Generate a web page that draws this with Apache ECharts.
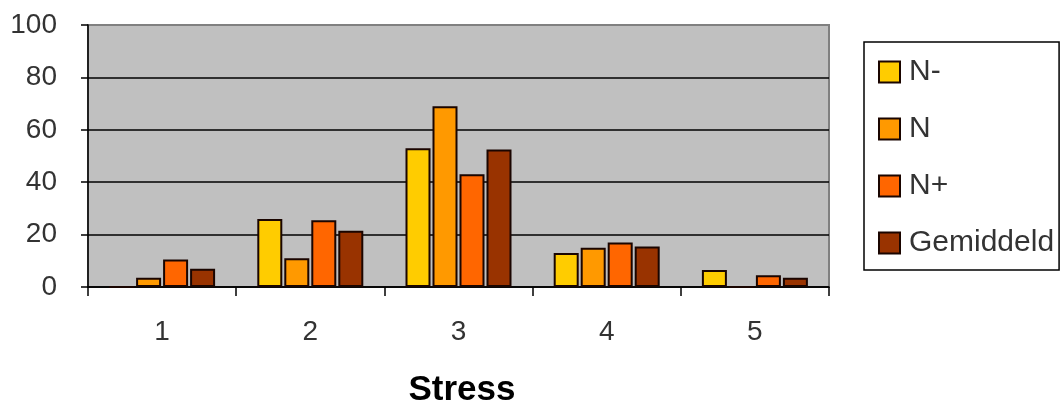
<!DOCTYPE html>
<html>
<head>
<meta charset="utf-8">
<script src="https://cdn.jsdelivr.net/npm/echarts@6/dist/echarts.min.js"></script>
<style>
  html, body { margin: 0; padding: 0; background: #fff; }
  #chart { width: 1064px; height: 410px; }
</style>
</head>
<body>
<div id="chart"></div>
<script>
// data
const categories = ['1', '2', '3', '4', '5'];
const nMin = [0, 26, 53, 13, 6.5];
const nMid = [3.5, 11, 69, 15, 0];
const nPlus = [10.5, 25.5, 43, 17, 4.5];
const gemiddeld = [7, 21.5, 52.5, 15.5, 3.5];

const font = 'Liberation Sans, Arial, sans-serif';

function bar(name, color, data) {
  return {
    name: name,
    type: 'bar',
    data: data,
    barWidth: 25,
    barGap: '8%',
    itemStyle: { color: color, borderColor: '#1a0500', borderWidth: 2 }
  };
}

let chart = echarts.init(document.getElementById('chart'));
chart.setOption({
  animation: false,
  backgroundColor: '#fff',
  title: {
    text: 'Stress',
    left: 457,
    top: 368,
    textAlign: 'center',
    textStyle: { fontFamily: font, fontSize: 35, fontWeight: 'bold', color: '#000' }
  },
  legend: {
    orient: 'vertical',
    left: 864,
    top: 42,
    padding: [15, 5, 12, 14],
    itemGap: 27,
    itemWidth: 21,
    itemHeight: 21,
    icon: 'rect',
    borderColor: '#000',
    borderWidth: 1.5,
    backgroundColor: '#fff',
    textStyle: { fontFamily: font, fontSize: 30, color: '#333', lineHeight: 30, padding: [0, 0, 0, 4] },
    data: ['N-', 'N', 'N+', 'Gemiddeld']
  },
  grid: {
    left: 88,
    right: 235,
    top: 25,
    bottom: 123,
    show: true,
    backgroundColor: '#c0c0c0',
    borderColor: '#808080',
    borderWidth: 2
  },
  xAxis: {
    type: 'category',
    data: categories,
    axisLine: { lineStyle: { color: '#000', width: 1.5 } },
    axisTick: { show: true, length: 9, lineStyle: { color: '#000', width: 1.5 } },
    axisLabel: { fontFamily: font, fontSize: 28, color: '#333', margin: 31 }
  },
  yAxis: {
    type: 'value',
    min: 0,
    max: 100,
    interval: 20,
    axisLine: { show: true, lineStyle: { color: '#000', width: 1.5 } },
    axisTick: { show: true, length: 7, lineStyle: { color: '#000', width: 1.5 } },
    axisLabel: { fontFamily: font, fontSize: 28, color: '#333', margin: 31 },
    splitLine: { show: true, showMaxLine: false, lineStyle: { color: '#000', width: 1.5 } }
  },
  series: [
    bar('N-', '#ffcc00', nMin),
    bar('N', '#ff9900', nMid),
    bar('N+', '#ff6600', nPlus),
    bar('Gemiddeld', '#993300', gemiddeld)
  ]
});
</script>
</body>
</html>
